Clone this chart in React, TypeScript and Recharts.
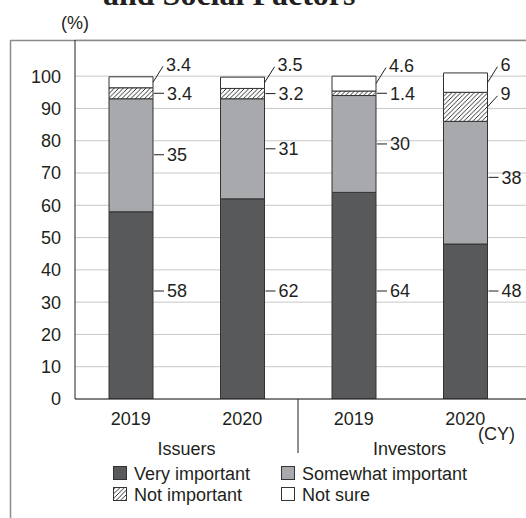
import React from 'react';
import { BarChart, Bar, XAxis, YAxis, CartesianGrid, LabelList, Customized } from 'recharts';

// Survey years per column, and the respondent group each pair belongs to
const years = ['2019', '2020', '2019', '2020'];
const groups = ['Issuers', 'Investors'];

// Share of respondents (%) by answer
const veryImportant = [58, 62, 64, 48];
const somewhatImportant = [35, 31, 30, 38];
const notImportant = [3.4, 3.2, 1.4, 9];
const notSure = [3.4, 3.5, 4.6, 6];

const yTicks = [0, 10, 20, 30, 40, 50, 60, 70, 80, 90, 100];
const seriesNames = ['Very important', 'Somewhat important', 'Not important', 'Not sure'];

const data = years.map((year, i) => ({
  year,
  veryImportant: veryImportant[i],
  somewhatImportant: somewhatImportant[i],
  notImportant: notImportant[i],
  notSure: notSure[i],
}));

const W = 526;
const H = 518;
const PLOT_LEFT = 75;
const PLOT_TOP = 40;
const PLOT_BOTTOM = 399;
const BAND_RIGHT = 521;
const BAND = (BAND_RIGHT - PLOT_LEFT) / years.length;

const FONT = '"Liberation Sans", Arial, Helvetica, sans-serif';
const INK = '#231f20';
const DARK = '#58595b';
const GRAY = '#a7a9ac';
const EDGE = '#333333';

type LabelProps = { x?: number | string; y?: number | string; width?: number | string; height?: number | string; value?: any };

const Num = ({ x, y, value }: { x: number; y: number; value: any }) => (
  <text x={x} y={y} dy="0.36em" fontSize={18} fontFamily={FONT} fill={INK}>
    {String(value)}
  </text>
);

// Short horizontal leader line from the bar's right edge, then the value
const flatLabel = (cy: number, right: number, value: any) => (
  <g>
    <line x1={right + 1} y1={cy} x2={right + 11} y2={cy} stroke={INK} strokeWidth={1} />
    <Num x={right + 14} y={cy} value={value} />
  </g>
);

// Slanted leader line rising to the upper right, for thin top segments
const slantLabel = (cy: number, right: number, value: any, rise: number) => (
  <g>
    <line x1={right} y1={cy} x2={right + 10} y2={cy - rise} stroke={INK} strokeWidth={1} />
    <Num x={right + 13} y={cy - rise - 2} value={value} />
  </g>
);

const num = (v: any) => Number(v) || 0;

const veryLabel = (p: LabelProps) => {
  const right = num(p.x) + num(p.width);
  const cy = num(p.y) + num(p.height) - 108;
  return flatLabel(cy, right, p.value);
};

const somewhatLabel = (p: LabelProps) => {
  const right = num(p.x) + num(p.width);
  const cy = num(p.y) + Math.min(56, num(p.height) / 2);
  return flatLabel(cy, right, p.value);
};

const notImportantLabel = (p: LabelProps) => {
  const right = num(p.x) + num(p.width);
  const h = num(p.height);
  const cy = num(p.y) + h / 2;
  return h > 20 ? slantLabel(cy, right, p.value, 11) : flatLabel(cy, right, p.value);
};

const notSureLabel = (p: LabelProps) => {
  const right = num(p.x) + num(p.width);
  const cy = num(p.y) + num(p.height) / 2;
  return slantLabel(cy, right, p.value, 16);
};

const swatches = [
  { fill: DARK },
  { fill: GRAY },
  { fill: 'url(#hatch)' },
  { fill: '#ffffff' },
];

const Decor = () => {
  const sepX = PLOT_LEFT + BAND * 2;
  const legendCols = [113, 281];
  const legendRows = [466, 487];
  return (
    <g>
      <defs>
        <pattern id="hatch" patternUnits="userSpaceOnUse" width={4.5} height={4.5}>
          <rect width={4.5} height={4.5} fill="#ffffff" />
          <path d="M-1,1 L1,-1 M0,4.5 L4.5,0 M3.5,5.5 L5.5,3.5" stroke="#1a1a1a" strokeWidth={0.9} />
        </pattern>
      </defs>
      {/* outer frame */}
      <line x1={10.5} y1={PLOT_TOP} x2={10.5} y2={H} stroke="#8c8c8c" strokeWidth={1.5} />
      <line x1={10} y1={PLOT_TOP + 0.5} x2={W} y2={PLOT_TOP + 0.5} stroke="#8c8c8c" strokeWidth={1.5} />
      {/* title tail */}
      <text x={103} y={4.5} fontSize={32} fontWeight="bold" fontFamily='"Liberation Serif", "Times New Roman", serif' fill={INK}>
        and Social Factors
      </text>
      <text x={61} y={29} fontSize={18} fontFamily={FONT} fill={INK}>(%)</text>
      {/* group divider and group names */}
      <line x1={sepX} y1={PLOT_BOTTOM} x2={sepX} y2={453} stroke={INK} strokeWidth={1} />
      {groups.map((g, i) => (
        <text key={g} x={PLOT_LEFT + BAND * (2 * i + 1)} y={455} textAnchor="middle" fontSize={18} fontFamily={FONT} fill={INK}>
          {g}
        </text>
      ))}
      <text x={478} y={440} fontSize={18} fontFamily={FONT} fill={INK}>(CY)</text>
      {/* legend */}
      {seriesNames.map((name, i) => {
        const col = i % 2;
        const row = Math.floor(i / 2);
        const sx = legendCols[col];
        const sy = legendRows[row];
        return (
          <g key={name}>
            <rect x={sx + 0.5} y={sy + 0.5} width={13} height={13} fill={swatches[i].fill} stroke={EDGE} strokeWidth={1} />
            <text x={sx + 21} y={sy + 14} fontSize={18} fontFamily={FONT} fill={INK}>{name}</text>
          </g>
        );
      })}
    </g>
  );
};

export default function App() {
  return (
    <div style={{ position: 'absolute', left: 0, top: 0, width: W, height: H }}>
      <BarChart
        width={W}
        height={H}
        data={data}
        margin={{ top: PLOT_TOP, right: 0, bottom: 89, left: 10 }}
        barSize={44}
      >
        <Customized component={Decor} />
        <CartesianGrid vertical={false} stroke="#c8c8c8" strokeWidth={1} />
        <XAxis
          dataKey="year"
          height={30}
          padding={{ left: 0, right: W - BAND_RIGHT }}
          axisLine={{ stroke: INK, strokeWidth: 1 }}
          tickLine={false}
          tickSize={6}
          tickMargin={7}
          tick={{ fontSize: 18, fontFamily: FONT, fill: INK }}
          interval={0}
        />
        <YAxis
          width={65}
          domain={[0, 111.2]}
          ticks={yTicks}
          allowDataOverflow
          axisLine={{ stroke: INK, strokeWidth: 1 }}
          tickLine={false}
          tickSize={6}
          tickMargin={8}
          tick={{ fontSize: 18, fontFamily: FONT, fill: INK }}
        />
        <Bar dataKey="veryImportant" stackId="s" fill={DARK} stroke={EDGE} strokeWidth={1} isAnimationActive={false}>
          <LabelList dataKey="veryImportant" content={veryLabel as any} />
        </Bar>
        <Bar dataKey="somewhatImportant" stackId="s" fill={GRAY} stroke={EDGE} strokeWidth={1} isAnimationActive={false}>
          <LabelList dataKey="somewhatImportant" content={somewhatLabel as any} />
        </Bar>
        <Bar dataKey="notImportant" stackId="s" fill="url(#hatch)" stroke={EDGE} strokeWidth={1} isAnimationActive={false}>
          <LabelList dataKey="notImportant" content={notImportantLabel as any} />
        </Bar>
        <Bar dataKey="notSure" stackId="s" fill="#ffffff" stroke={EDGE} strokeWidth={1} isAnimationActive={false}>
          <LabelList dataKey="notSure" content={notSureLabel as any} />
        </Bar>
      </BarChart>
    </div>
  );
}
